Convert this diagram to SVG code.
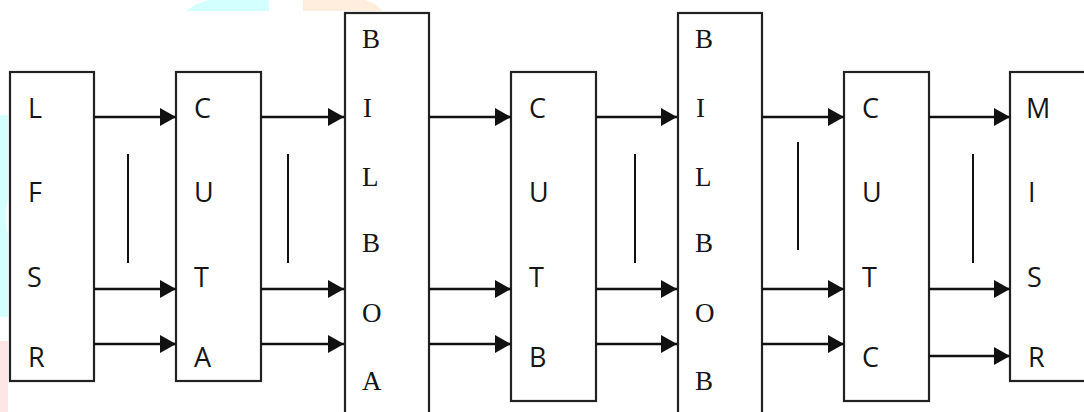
<svg xmlns="http://www.w3.org/2000/svg" width="1084" height="412" viewBox="0 0 1084 412">
  <style>
    .box { fill: #ffffff; stroke: #222222; stroke-width: 2.2; }
    .wire { stroke: #111111; stroke-width: 2.4; fill: none; }
    .bar { stroke: #111111; stroke-width: 2; }
    .sans { font-family: "Open Sans", "Liberation Sans", sans-serif; font-size: 27px; fill: #151515; }
    .serif { font-family: "Liberation Serif", "DejaVu Serif", serif; font-size: 27px; fill: #151515; }
  </style>
  <defs>
    <marker id="head" markerUnits="userSpaceOnUse" markerWidth="17" markerHeight="20" refX="16" refY="9" orient="auto">
      <path d="M0,0 L16,9 L0,18 Z" fill="#111111"/>
    </marker>
  </defs>

  <rect width="1084" height="412" fill="#ffffff"/>

  <!-- faint background tints at the edges -->
  <g id="tints">
    <path d="M186,11 L195,5 L205,1 L210,0 L269,0 L269,11 Z" fill="#d4ffff"/>
    <path d="M303,0 L365,0 L375,4 L383,11 L303,11 Z" fill="#ffeedd"/>
    <path d="M0,115 L8,115 L8,200 Q3,215 8,235 L8,317 L0,317 Z" fill="#d4ffff"/>
    <rect x="0" y="341" width="8" height="71" fill="#ffe6e6"/>
  </g>

  <g id="lfsr">
    <rect class="box" x="10" y="72" width="84" height="309"/>
    <text class="sans" x="28" y="118">L</text>
    <text class="sans" x="28" y="202">F</text>
    <text class="sans" x="27" y="287">S</text>
    <text class="sans" x="28" y="367">R</text>
  </g>

  <g id="cuta">
    <rect class="box" x="176" y="72" width="85" height="309"/>
    <text class="sans" x="194" y="118">C</text>
    <text class="sans" x="194" y="202">U</text>
    <text class="sans" x="194" y="287">T</text>
    <text class="sans" x="194" y="367">A</text>
  </g>

  <g id="bilboa">
    <rect class="box" x="345" y="13" width="84" height="410"/>
    <text class="serif" x="362" y="48">B</text>
    <text class="serif" x="363" y="117">I</text>
    <text class="serif" x="362" y="186">L</text>
    <text class="serif" x="362" y="252">B</text>
    <text class="serif" x="362" y="322">O</text>
    <text class="serif" x="362" y="390">A</text>
  </g>

  <g id="cutb">
    <rect class="box" x="511" y="72" width="85" height="329"/>
    <text class="sans" x="529" y="118">C</text>
    <text class="sans" x="529" y="202">U</text>
    <text class="sans" x="529" y="287">T</text>
    <text class="sans" x="529" y="367">B</text>
  </g>

  <g id="bilbob">
    <rect class="box" x="678" y="13" width="84" height="410"/>
    <text class="serif" x="695" y="48">B</text>
    <text class="serif" x="696" y="117">I</text>
    <text class="serif" x="695" y="186">L</text>
    <text class="serif" x="695" y="252">B</text>
    <text class="serif" x="695" y="322">O</text>
    <text class="serif" x="695" y="390">B</text>
  </g>

  <g id="cutc">
    <rect class="box" x="844" y="72" width="85" height="329"/>
    <text class="sans" x="862" y="118">C</text>
    <text class="sans" x="862" y="202">U</text>
    <text class="sans" x="862" y="287">T</text>
    <text class="sans" x="862" y="367">C</text>
  </g>

  <g id="misr">
    <rect class="box" x="1010" y="72" width="90" height="309"/>
    <text class="sans" x="1026" y="118">M</text>
    <text class="sans" x="1028" y="202">I</text>
    <text class="sans" x="1027" y="287">S</text>
    <text class="sans" x="1028" y="367">R</text>
  </g>

  <g id="connectors">
    <!-- LFSR to CUT A -->
    <line class="wire" x1="94" y1="117" x2="176" y2="117" marker-end="url(#head)"/>
    <line class="wire" x1="94" y1="289" x2="176" y2="289" marker-end="url(#head)"/>
    <line class="wire" x1="94" y1="344" x2="176" y2="344" marker-end="url(#head)"/>
    <line class="bar" x1="128" y1="154" x2="128" y2="263"/>
    <!-- CUT A to BILBO A -->
    <line class="wire" x1="261" y1="117" x2="344" y2="117" marker-end="url(#head)"/>
    <line class="wire" x1="261" y1="289" x2="344" y2="289" marker-end="url(#head)"/>
    <line class="wire" x1="261" y1="344" x2="344" y2="344" marker-end="url(#head)"/>
    <line class="bar" x1="288" y1="154" x2="288" y2="263"/>
    <!-- BILBO A to CUT B -->
    <line class="wire" x1="429" y1="117" x2="511" y2="117" marker-end="url(#head)"/>
    <line class="wire" x1="429" y1="289" x2="511" y2="289" marker-end="url(#head)"/>
    <line class="wire" x1="429" y1="344" x2="511" y2="344" marker-end="url(#head)"/>
    <!-- CUT B to BILBO B -->
    <line class="wire" x1="596" y1="117" x2="677" y2="117" marker-end="url(#head)"/>
    <line class="wire" x1="596" y1="289" x2="677" y2="289" marker-end="url(#head)"/>
    <line class="wire" x1="596" y1="344" x2="677" y2="344" marker-end="url(#head)"/>
    <line class="bar" x1="635" y1="154" x2="635" y2="263"/>
    <!-- BILBO B to CUT C -->
    <line class="wire" x1="762" y1="117" x2="844" y2="117" marker-end="url(#head)"/>
    <line class="wire" x1="762" y1="289" x2="844" y2="289" marker-end="url(#head)"/>
    <line class="wire" x1="762" y1="344" x2="844" y2="344" marker-end="url(#head)"/>
    <line class="bar" x1="798" y1="142" x2="798" y2="250"/>
    <!-- CUT C to MISR -->
    <line class="wire" x1="929" y1="117" x2="1010" y2="117" marker-end="url(#head)"/>
    <line class="wire" x1="929" y1="289" x2="1010" y2="289" marker-end="url(#head)"/>
    <line class="wire" x1="929" y1="356" x2="1010" y2="356" marker-end="url(#head)"/>
    <line class="bar" x1="973" y1="154" x2="973" y2="263"/>
  </g>
</svg>
